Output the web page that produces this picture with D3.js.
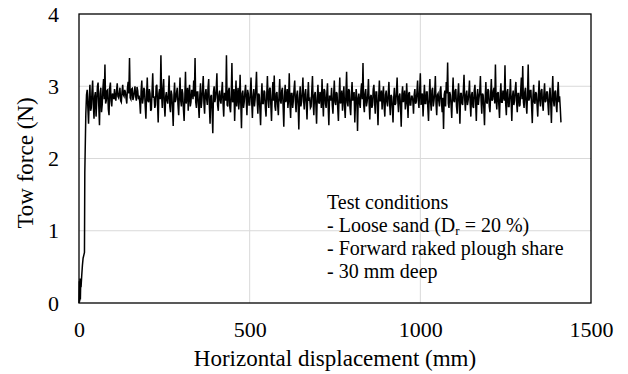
<!DOCTYPE html>
<html lang="en">
<head>
<meta charset="utf-8">
<title>Tow force</title>
<script src="https://d3js.org/d3.v7.min.js"></script>
<style>
  body { margin: 0; background: #fff; }
  svg text { font-family: "Liberation Serif", "DejaVu Serif", serif; }
  .tick-label { font-size: 22px; }
  .axis-title { font-size: 23px; }
  .note { font-size: 20px; white-space: pre; }
</style>
</head>
<body>
<div id="vis"></div>
<script>
// tick values
const xTicks = [0, 500, 1000, 1500];
const yTicks = [0, 1, 2, 3, 4];

// start-up of the tow (displacement mm, force N)
const rampDisp  = [0, 1, 2, 3, 4, 5, 6, 8, 10, 12, 14, 16, 17];
const rampForce = [0, 0.30, 0.02, 0.34, 0.05, 0.28, 0.22, 0.38, 0.52, 0.62, 0.66, 0.70, 1.80];

// steady towing, logged every 2 mm from 20 mm
const steadyStart = 20;
const steadyStep = 2;
const steadyForce = [
  2.62,2.88, 2.95,2.70, 2.48,2.84, 3.02,2.66, 2.70,2.92, 3.08,2.74, 2.55,2.86, 2.92,2.58, 2.78,3.00, 3.05,2.72,
  2.46,2.90, 2.98,2.64, 2.74,2.96, 3.10,2.82, 3.30,2.76, 2.80,2.94, 2.95,2.68, 2.60,2.98, 3.05,2.80, 2.72,2.90,
  2.88,2.82, 2.96,2.84, 2.80,2.94, 3.04,2.86, 2.84,2.90, 2.98,2.80, 2.78,2.92, 3.02,2.88, 2.86,2.95, 2.92,2.83,
  2.76,2.98, 3.06,2.90, 3.39,2.84, 2.82,2.96, 2.97,2.81, 2.85,2.93, 3.00,2.86, 2.80,2.99, 2.94,2.82, 2.87,2.78,
  2.62,2.94, 3.08,2.76, 2.83,2.98, 2.95,2.72, 2.55,2.88, 3.12,2.80, 2.78,2.96, 2.90,2.66, 2.68,2.92, 3.18,2.84,
  2.86,2.70, 2.74,3.00, 3.02,2.78, 2.50,2.90, 2.96,2.82, 3.43,2.88, 2.70,2.97, 3.10,2.74, 2.58,2.86, 2.92,2.80,
  2.76,2.90, 3.15,2.72, 2.64,2.94, 2.88,2.70, 2.45,2.86, 3.05,2.78, 2.82,2.92, 2.98,2.74, 2.60,2.88, 3.12,2.80,
  2.72,2.96, 2.90,2.68, 2.52,2.84, 3.20,2.76, 2.85,2.98, 2.66,2.90, 3.02,2.72, 2.78,2.94, 2.94,2.82, 3.08,2.86,
  3.39,2.78, 2.70,2.92, 2.92,2.74, 2.56,2.88, 3.04,2.70, 2.80,2.96, 3.14,2.76, 2.62,2.90, 2.96,2.82, 2.74,2.98,
  3.10,2.72, 2.48,2.86, 2.88,2.66, 2.35,2.92, 3.00,2.78, 2.84,2.96, 3.18,2.74, 2.66,2.88, 2.94,2.80, 2.76,2.92,
  3.06,2.76, 2.58,2.90, 2.90,2.80, 3.43,2.74, 2.72,2.94, 2.98,2.70, 2.64,2.88, 3.32,2.78, 2.80,2.96, 2.52,2.84,
  3.08,2.72, 2.86,2.98, 2.68,2.82, 3.16,2.76, 2.42,2.90, 2.94,2.70, 2.78,2.92, 3.02,2.80, 2.60,2.95, 2.90,2.74,
  2.74,2.92, 3.12,2.78, 2.56,2.86, 2.96,2.72, 2.82,2.98, 3.20,2.80, 2.62,2.90, 2.88,2.68, 2.46,2.84, 3.04,2.76,
  2.76,2.94, 2.92,2.70, 2.58,2.88, 3.14,2.82, 2.70,2.96, 2.98,2.74, 2.52,2.86, 3.06,2.80, 3.15,2.72, 2.66,2.90,
  2.92,2.74, 2.60,2.88, 3.10,2.80, 2.76,2.94, 2.98,2.72, 2.44,2.86, 3.02,2.78, 2.84,2.96, 2.70,2.82, 3.18,2.76,
  2.56,2.90, 2.90,2.70, 2.80,2.96, 3.08,2.78, 2.64,2.88, 2.94,2.74, 2.40,2.84, 3.00,2.72, 2.78,2.92, 3.12,2.80,
  2.68,2.90, 2.96,2.76, 2.54,2.86, 3.06,2.80, 2.82,2.70, 2.72,2.94, 3.14,2.78, 2.60,2.88, 2.92,2.74, 2.48,2.84,
  3.02,2.78, 2.76,2.92, 2.88,2.70, 3.10,2.82, 2.58,2.96, 2.94,2.76, 2.70,2.90, 3.04,2.72, 2.46,2.86, 2.86,2.80,
  2.98,2.74, 2.62,2.88, 3.08,2.78, 2.74,2.92, 2.90,2.70, 2.52,2.86, 3.12,2.76, 2.80,2.94, 2.66,2.84, 3.00,2.72,
  2.56,2.90, 3.20,2.78, 2.72,2.96, 2.94,2.70, 2.60,2.88, 3.06,2.80, 2.84,2.92, 2.50,2.76, 2.96,2.84, 2.38,2.82,
  2.90,2.76, 2.70,2.94, 3.04,2.82, 3.32,2.74, 2.64,2.90, 2.96,2.72, 2.78,2.88, 3.10,2.76, 2.54,2.86, 2.88,2.70,
  2.74,2.96, 3.02,2.78, 2.62,2.92, 2.92,2.74, 2.46,2.84, 3.08,2.80, 2.80,2.94, 2.68,2.86, 3.00,2.72, 2.58,2.88,
  2.94,2.78, 2.72,2.90, 3.06,2.76, 2.60,2.88, 2.86,2.70, 2.50,2.84, 2.98,2.74, 2.76,2.92, 3.12,2.80, 2.64,2.86,
  2.90,2.72, 2.44,2.88, 3.00,2.78, 2.82,2.94, 2.68,2.76, 3.04,2.82, 2.56,2.90, 2.92,2.74, 2.74,2.86, 2.86,2.80,
  2.62,2.88, 2.96,2.76, 2.78,2.92, 3.08,2.80, 2.70,2.94, 3.18,2.74, 2.84,2.90, 2.58,2.82, 3.02,2.76, 2.76,2.92,
  2.92,2.70, 2.52,2.86, 3.10,2.78, 2.66,2.94, 2.98,2.72, 2.80,2.90, 3.14,2.76, 2.60,2.88, 2.90,2.80, 2.72,2.94,
  3.00,2.78, 2.64,2.84, 2.41,2.88, 2.94,2.72, 3.06,2.90, 3.33,2.76, 2.70,2.92, 2.88,2.74, 2.56,2.86, 3.12,2.80,
  2.78,2.94, 2.96,2.72, 2.62,2.88, 3.04,2.78, 2.48,2.90, 2.90,2.76, 2.74,2.94, 3.16,2.82, 2.66,2.88, 2.94,2.74,
  2.80,2.90, 3.08,2.76, 2.58,2.88, 2.92,2.72, 2.70,2.94, 3.02,2.78, 2.52,2.86, 2.96,2.74, 2.84,2.92, 3.14,2.80,
  2.62,2.90, 2.88,2.70, 2.46,2.84, 3.06,2.78, 2.76,2.96, 2.94,2.72, 2.64,2.88, 3.10,2.80, 2.82,2.94, 2.98,2.76,
  3.30,2.82, 2.68,2.90, 2.92,2.74, 2.56,2.88, 3.04,2.78, 2.78,2.94, 2.88,2.80, 3.29,2.76, 2.60,2.92, 2.96,2.72,
  2.72,2.88, 3.10,2.80, 2.52,2.86, 2.94,2.74, 2.80,2.96, 3.06,2.78, 2.64,2.90, 2.90,2.72, 2.74,2.94, 3.12,2.82,
  3.28,2.78, 2.70,2.92, 2.98,2.76, 2.62,2.88, 3.30,2.80, 2.84,2.94, 2.94,2.72, 2.49,2.86, 3.02,2.78, 2.76,2.92,
  2.90,2.74, 2.58,2.88, 3.08,2.80, 2.72,2.94, 2.96,2.76, 2.66,2.90, 3.04,2.78, 2.80,2.92, 2.92,2.74, 2.60,2.88,
  2.98,2.76, 2.49,2.88, 3.14,2.80, 2.72,2.92, 2.94,2.74, 2.64,2.90, 3.06,2.78, 2.86,2.70, 2.50
];

const noteLines = ["Test conditions", " - Loose sand  (D", " - Forward raked plough  share", " - 30 mm  deep"];

const width = 628, height = 374;
const plotLeft = 79, plotRight = 591, plotTop = 14, plotBottom = 303;

const data = rampDisp.map((d, i) => ({x: d, y: rampForce[i]}))
  .concat(steadyForce.map((f, i) => ({x: steadyStart + i * steadyStep, y: f})));

const xScale = d3.scaleLinear().domain([0, 1500]).range([plotLeft, plotRight]);
const yScale = d3.scaleLinear().domain([0, 4]).range([plotBottom, plotTop]);

const svg = d3.select("#vis").append("svg")
  .attr("width", width)
  .attr("height", height);

// gridlines
svg.append("g")
  .selectAll("line")
  .data(yTicks.slice(1, -1))
  .join("line")
  .attr("x1", plotLeft).attr("x2", plotRight)
  .attr("y1", d => yScale(d)).attr("y2", d => yScale(d))
  .attr("stroke", "#d9d9d9").attr("stroke-width", 1);

svg.append("g")
  .selectAll("line")
  .data(xTicks.slice(1, -1))
  .join("line")
  .attr("x1", d => xScale(d)).attr("x2", d => xScale(d))
  .attr("y1", plotTop).attr("y2", plotBottom)
  .attr("stroke", "#d9d9d9").attr("stroke-width", 1);

// axes without tick marks (labels only)
const bottomAxis = d3.axisBottom(xScale).tickValues(xTicks).tickFormat(d3.format("d")).tickSize(0).tickPadding(18);
const leftAxis = d3.axisLeft(yScale).tickValues(yTicks).tickFormat(d3.format("d")).tickSize(0).tickPadding(20);

const gx = svg.append("g").attr("transform", "translate(0," + plotBottom + ")").call(bottomAxis);
const gy = svg.append("g").attr("transform", "translate(" + plotLeft + ",0)").call(leftAxis);
[gx, gy].forEach(g => {
  g.attr("font-family", null).attr("font-size", null);
  g.select(".domain").remove();
  g.selectAll("text").attr("class", "tick-label").attr("fill", "#000");
});

// data line
const line = d3.line().x(d => xScale(d.x)).y(d => yScale(d.y));
svg.append("path")
  .datum(data)
  .attr("fill", "none")
  .attr("stroke", "#000")
  .attr("stroke-width", 1.5)
  .attr("d", line);

// plot frame
svg.append("rect")
  .attr("x", plotLeft).attr("y", plotTop)
  .attr("width", plotRight - plotLeft).attr("height", plotBottom - plotTop)
  .attr("fill", "none").attr("stroke", "#000").attr("stroke-width", 1.3);

// axis titles
svg.append("text")
  .attr("class", "axis-title")
  .attr("x", (plotLeft + plotRight) / 2)
  .attr("y", 366)
  .attr("text-anchor", "middle")
  .text("Horizontal displacement (mm)");

svg.append("text")
  .attr("class", "axis-title")
  .attr("transform", "translate(33,163) rotate(-90)")
  .attr("text-anchor", "middle")
  .text("Tow force (N)");

// test conditions note
const note = svg.append("g").attr("class", "note");
noteLines.forEach((t, i) => {
  const tx = note.append("text")
    .attr("x", 327)
    .attr("y", 209 + i * 23)
    .text(t);
  if (i === 1) {
    tx.append("tspan").attr("font-size", 13).attr("dy", 3).text("r");
    tx.append("tspan").attr("dy", -3).text(" = 20 %)");
  }
});
</script>
</body>
</html>
